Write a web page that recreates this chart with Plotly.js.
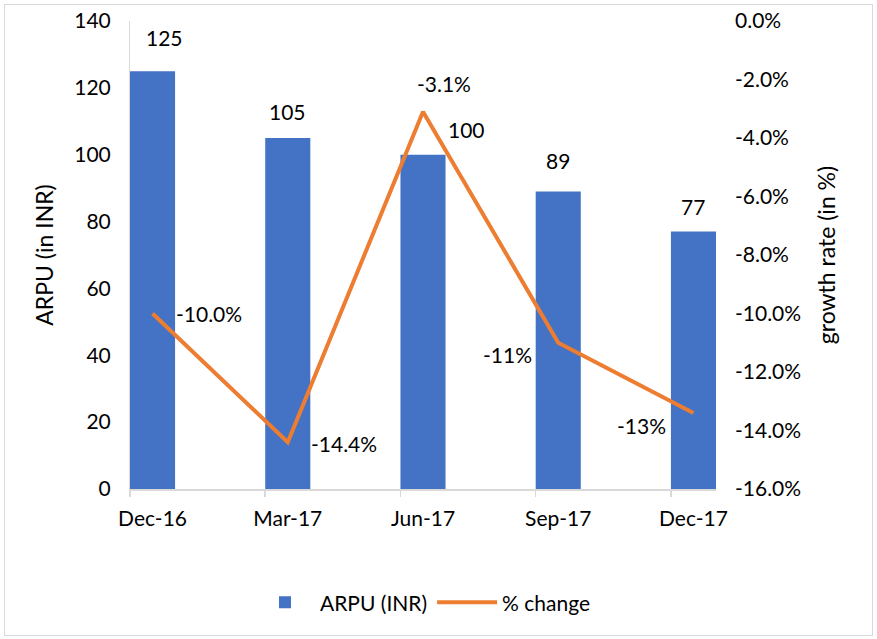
<!DOCTYPE html>
<html>
<head>
<meta charset="utf-8">
<script src="https://cdn.plot.ly/plotly-3.0.1.min.js"></script>
<style>
  html, body { margin: 0; padding: 0; background: #ffffff; }
  #frame { position: absolute; left: 4px; top: 4px; width: 867px; height: 630px; border: 1px solid #d9d9d9; }
  #chart { position: absolute; left: 0; top: 0; width: 877px; height: 639px; }
</style>
</head>
<body>
<div id="frame"></div>
<div id="chart"></div>
<script>
const categories = ["Dec-16", "Mar-17", "Jun-17", "Sep-17", "Dec-17"];
const arpu = [125, 105, 100, 89, 77];
const pctChange = [-10.0, -14.4, -3.1, -11.0, -13.4];
const pctLabels = ["-10.0%", "-14.4%", "-3.1%", "-11%", "-13%"];
const yLeftTicks = [0, 20, 40, 60, 80, 100, 120, 140];
const yRightTicks = [0, -2, -4, -6, -8, -10, -12, -14, -16];
const yRightTickText = ["0.0%", "-2.0%", "-4.0%", "-6.0%", "-8.0%", "-10.0%", "-12.0%", "-14.0%", "-16.0%"];

const xIdx = categories.map((c, i) => i);
const half = 1 / 6;
const FONT = "Lato, 'Open Sans', sans-serif";
const FS = 21;

const traces = [
  {
    type: "bar", name: "ARPU (INR)", x: xIdx, y: arpu,
    width: 2 * half, marker: { color: "#4472C4" }, hoverinfo: "skip"
  },
  {
    type: "scatter", mode: "lines", name: "% change", x: xIdx, y: pctChange,
    yaxis: "y2", line: { color: "#ED7D31", width: 4 }, hoverinfo: "skip"
  }
];

// label placement styles (not data)
const barLabelShift = [[12, 34], [0, 27], [43, 25], [0, 31], [0, 25]];
const lineLabelStyle = [
  { xanchor: "left", xshift: 21, yshift: 0 },
  { xanchor: "left", xshift: 21, yshift: -1 },
  { xanchor: "center", xshift: 21, yshift: 28 },
  { xanchor: "right", xshift: -24, yshift: -12 },
  { xanchor: "right", xshift: -25, yshift: -13 }
];

const annotations = [];
arpu.forEach((v, i) => {
  annotations.push({
    x: xIdx[i], y: v, xref: "x", yref: "y", text: String(v), showarrow: false,
    xanchor: "center", yanchor: "middle",
    xshift: barLabelShift[i][0], yshift: barLabelShift[i][1],
    font: { family: FONT, size: FS, color: "#000" }
  });
});
pctChange.forEach((v, i) => {
  const s = lineLabelStyle[i];
  annotations.push({
    x: xIdx[i], y: v, xref: "x", yref: "y2", text: pctLabels[i], showarrow: false,
    xanchor: s.xanchor, yanchor: "middle", xshift: s.xshift, yshift: s.yshift,
    font: { family: FONT, size: FS, color: "#000" }
  });
});

const layout = {
  width: 877, height: 639,
  margin: { l: 130, r: 161, t: 21, b: 150 },
  paper_bgcolor: "rgba(0,0,0,0)", plot_bgcolor: "rgba(0,0,0,0)",
  font: { family: FONT, size: FS, color: "#000" },
  showlegend: true,
  legend: {
    orientation: "h", x: 0.5, xanchor: "center", xref: "paper",
    y: -0.243, yanchor: "middle", itemwidth: 60,
    font: { family: FONT, size: FS, color: "#000" }, traceorder: "normal"
  },
  xaxis: {
    range: [-half, 4 + half], tickmode: "array", tickvals: xIdx, ticktext: categories,
    ticks: "", showgrid: false, zeroline: false, ticklabelstandoff: 10,
    showline: true, linecolor: "#d9d9d9", linewidth: 1.5,
    tickfont: { family: FONT, size: FS, color: "#000" },
    minor: { tickmode: "array", tickvals: xIdx.map(i => i - half), ticks: "outside", ticklen: 6, tickcolor: "#d9d9d9", tickwidth: 1.5, showgrid: false },
    fixedrange: true
  },
  yaxis: {
    range: [0, 140], tickmode: "array", tickvals: yLeftTicks,
    showgrid: false, zeroline: false, showline: true, linecolor: "#d9d9d9", linewidth: 1,
    ticks: "", ticklabelstandoff: 14,
    tickfont: { family: FONT, size: FS, color: "#000" },
    title: { text: "ARPU (in INR)", font: { family: FONT, size: 23, color: "#000" }, standoff: 14 },
    fixedrange: true
  },
  yaxis2: {
    overlaying: "y", side: "right", range: [-16, 0], tickmode: "array",
    tickvals: yRightTicks, ticktext: yRightTickText,
    showgrid: false, zeroline: false, showline: false,
    ticks: "", ticklabelstandoff: 18,
    tickfont: { family: FONT, size: FS, color: "#000" },
    title: { text: "growth rate (in %)", font: { family: FONT, size: 23, color: "#000" }, standoff: 18 },
    fixedrange: true
  },
  annotations: annotations
};

Plotly.newPlot("chart", traces, layout, { displayModeBar: false, staticPlot: true });
</script>
</body>
</html>
